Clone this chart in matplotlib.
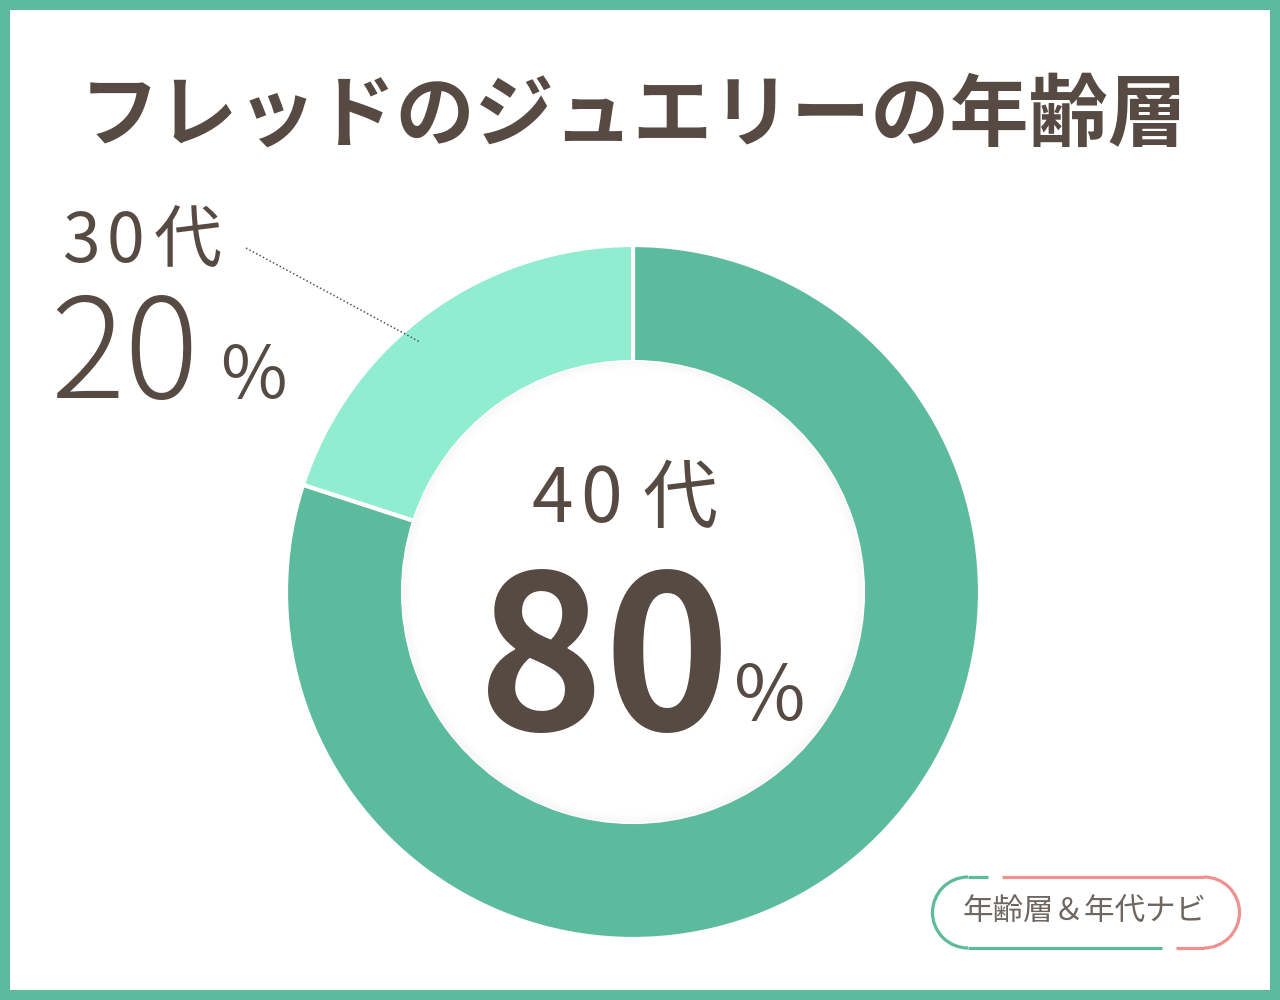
"""Donut chart: age groups of Fred jewelry buyers (40代 80%, 30代 20%)."""

import matplotlib.pyplot as plt
from matplotlib.patches import Arc, Rectangle

plt.rcParams["font.family"] = ["Noto Sans CJK JP", "DejaVu Sans"]

# ---------------------------------------------------------------------------
# Data
# ---------------------------------------------------------------------------
TITLE = "フレッドのジュエリーの年齢層"
age_groups = ["40代", "30代"]
shares = [80, 20]
slice_colors = ["#5cba9d", "#90edcf"]
BADGE = "年齢層＆年代ナビ"

TEXT = "#564a43"
GREEN = "#5cba9d"
PINK = "#f0918f"

W, H = 1280, 1000


def Y(py):
    """Pixel row (from top) to data y."""
    return H - py


def spaced_label(ax, text, centers, baseline, **kw):
    """Draw a label one glyph at a time (the reference font is wide)."""
    for ch, x in zip(text, centers):
        ax.text(x, Y(baseline), ch, ha="center", va="baseline", **kw)


fig = plt.figure(figsize=(W / 100, H / 100), dpi=100)
ax = fig.add_axes([0, 0, 1, 1])

# frame
ax.add_patch(Rectangle((0, 0), W, H, facecolor=GREEN, edgecolor="none", zorder=0))
ax.add_patch(Rectangle((10, 10), W - 20, H - 20, facecolor="white", edgecolor="none", zorder=0))

# donut
cx, cy, r_out, r_in = 633, Y(592), 347, 230
wedges, _ = ax.pie(
    shares,
    colors=slice_colors,
    startangle=90,
    counterclock=False,
    center=(cx, cy),
    radius=r_out,
    wedgeprops=dict(width=r_out - r_in, edgecolor="white", linewidth=3),
    frame=True,
)
ax.set_xlim(0, W)
ax.set_ylim(0, H)
ax.set_aspect("equal")
ax.axis("off")

# soft shadow along the inner edge
for i in range(8):
    ax.add_patch(plt.Circle((cx, cy), r_in - i, facecolor="none",
                            edgecolor="black", alpha=0.018 * (8 - i) / 8, lw=1.2, zorder=3))

# title
ax.text(W / 2 - 6, Y(140), TITLE, ha="center", va="baseline",
        fontsize=57, fontweight="bold", color=TEXT)

# 30代 label
spaced_label(ax, age_groups[1], [81, 125, 188], 262, fontsize=49, color=TEXT)
ax.text(50, Y(398), f"{shares[1]}", ha="left", va="baseline",
        fontsize=100, fontweight="light", color=TEXT)
ax.text(220, Y(398), "%", ha="left", va="baseline", fontsize=52, color=TEXT)
ax.plot([246, 420], [Y(248), Y(342)], color="#555555", lw=1.1,
        linestyle=(0, (1, 1.5)), zorder=4)

# 40代 label (centre)
spaced_label(ax, age_groups[0], [552, 601, 680], 522, fontsize=54, color=TEXT)
ax.text(478, Y(730), f"{shares[0]}", ha="left", va="baseline",
        fontsize=154, fontweight="bold", color=TEXT)
ax.text(734, Y(720), "%", ha="left", va="baseline", fontsize=56, color=TEXT)

# badge
bl, br, bt, bb = 968, 1204, 877, 948
bcy, bh = Y((bt + bb) / 2), bb - bt
lw = 2.3
ax.add_patch(Arc((bl, bcy), bh, bh, theta1=90, theta2=270, color=GREEN, lw=lw))
ax.add_patch(Arc((br, bcy), bh, bh, theta1=-90, theta2=90, color=PINK, lw=lw))
ax.plot([bl, 988], [Y(bt), Y(bt)], color=GREEN, lw=lw, solid_capstyle="butt")
ax.plot([1002, br], [Y(bt), Y(bt)], color=PINK, lw=lw, solid_capstyle="butt")
ax.plot([bl, 1162], [Y(bb), Y(bb)], color=GREEN, lw=lw, solid_capstyle="butt")
ax.plot([1176, br], [Y(bb), Y(bb)], color=PINK, lw=lw, solid_capstyle="butt")
ax.text(1085, bcy, BADGE, ha="center", va="center", fontsize=22, color="#6e6661")

fig.savefig("out.png", dpi=100)
